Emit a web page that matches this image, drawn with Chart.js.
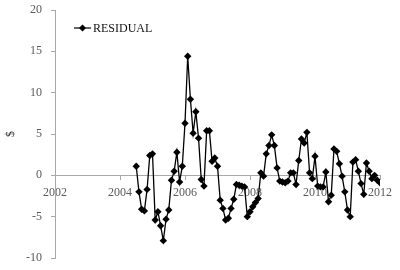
<!DOCTYPE html>
<html>
<head>
<meta charset="utf-8">
<script src="https://cdn.jsdelivr.net/npm/chart.js@4/dist/chart.umd.min.js"></script>
<style>
  html, body { margin: 0; padding: 0; background: #fff; }
  #wrap { width: 400px; height: 270px; }
</style>
</head>
<body>
<div id="wrap"><canvas id="chart_1"></canvas></div>
<script>
// monthly residuals, first month = July 2004
var startYear = 2004.5;
var residual = [
  1.1, -2.0, -4.1, -4.3, -1.7, 2.4, 2.6, -5.4, -4.4, -6.1,
  -7.9, -5.3, -4.2, -0.6, 0.5, 2.8, -0.8, 1.1, 6.3, 14.4,
  9.2, 5.1, 7.7, 4.5, -0.5, -1.3, 5.4, 5.4, 1.7, 2.1,
  1.1, -3.0, -4.0, -5.4, -5.2, -4.0, -2.9, -1.1, -1.2, -1.3,
  -1.4, -5.0, -4.4, -3.8, -3.3, -2.8, 0.3, -0.1, 2.6, 3.6,
  4.9, 3.6, 0.9, -0.7, -0.8, -0.9, -0.7, 0.3, 0.3, -1.1,
  1.8, 4.4, 3.9, 5.2, 0.3, -0.4, 2.3, -1.3, -1.4, -1.4,
  0.4, -3.2, -2.4, 3.2, 2.9, 1.4, -0.1, -2.0, -4.2, -5.0,
  1.6, 1.9, 0.5, -1.0, -2.3, 1.5, 0.5, -0.4, 0.0, -0.6,
  -0.9
];
var yearTicks = [2002, 2004, 2006, 2008, 2010, 2012];
var yTicks = [-10, -5, 0, 5, 10, 15, 20];

var points = residual.map(function (v, i) {
  return { x: startYear + i / 12, y: v };
});

var serif = "'Liberation Serif', 'Times New Roman', serif";
var axisGrey = "#a8a8a8";
var textGrey = "#5a5a5a";

const ctxval1 = document.getElementById("chart_1");

var myChart1 = new Chart(ctxval1, {
  type: "line",
  data: {
    datasets: [
      {
        label: "RESIDUAL",
        data: points,
        borderColor: "#000",
        backgroundColor: "#000",
        borderWidth: 1.3,
        tension: 0,
        pointStyle: "rectRot",
        pointRadius: 3.7,
        pointBorderWidth: 0,
      },
    ],
  },
  options: {
    responsive: true,
    maintainAspectRatio: false,
    animation: false,
    layout: {
      padding: { left: 0, right: 20, top: 10, bottom: 12 },
    },
    plugins: {
      legend: { display: false },
      tooltip: { enabled: false },
    },
    scales: {
      x: {
        type: "linear",
        position: { y: 0 },
        min: yearTicks[0],
        max: yearTicks[yearTicks.length - 1],
        afterBuildTicks: function (scale) {
          scale.ticks = yearTicks.map(function (v) { return { value: v }; });
        },
        grid: {
          display: true,
          drawOnChartArea: false,
          drawTicks: true,
          tickLength: 4,
          color: axisGrey,
        },
        border: { display: true, color: axisGrey, width: 1 },
        ticks: {
          maxRotation: 0,
          padding: 6,
          color: textGrey,
          font: { family: serif, size: 12 },
          callback: function (value) { return String(value); },
        },
      },
      y: {
        min: yTicks[0],
        max: yTicks[yTicks.length - 1],
        afterBuildTicks: function (scale) {
          scale.ticks = yTicks.map(function (v) { return { value: v }; });
        },
        afterFit: function (scale) {
          // fixed axis width, and keep tick padding from eating plot height
          scale.width = 55;
          scale.paddingTop = 0;
          scale.paddingBottom = 0;
        },
        grid: {
          display: true,
          drawOnChartArea: false,
          drawTicks: true,
          tickLength: 4,
          color: axisGrey,
        },
        border: { display: true, color: axisGrey, width: 1 },
        ticks: {
          padding: 9,
          color: textGrey,
          font: { family: serif, size: 12 },
        },
        title: {
          display: true,
          text: "$",
          color: "#333",
          font: { family: serif, size: 12 },
        },
      },
    },
  },
  plugins: [
    // legend drawn inside the plot, top left
    {
      id: "insideLegend",
      afterDraw: function (chart) {
        const ctx = chart.ctx;
        const ds = chart.data.datasets[0];
        const y = 28;
        ctx.save();
        ctx.strokeStyle = "#000";
        ctx.lineWidth = 1.2;
        ctx.beginPath();
        ctx.moveTo(74, y);
        ctx.lineTo(91, y);
        ctx.stroke();
        ctx.fillStyle = "#000";
        ctx.beginPath();
        ctx.moveTo(82.5, y - 3.5);
        ctx.lineTo(86, y);
        ctx.lineTo(82.5, y + 3.5);
        ctx.lineTo(79, y);
        ctx.closePath();
        ctx.fill();
        ctx.font = "12px " + serif;
        ctx.fillStyle = "#111";
        ctx.textBaseline = "middle";
        ctx.textAlign = "left";
        ctx.fillText(ds.label, 93, y + 1);
        ctx.restore();
      },
    },
  ],
});
</script>
</body>
</html>
